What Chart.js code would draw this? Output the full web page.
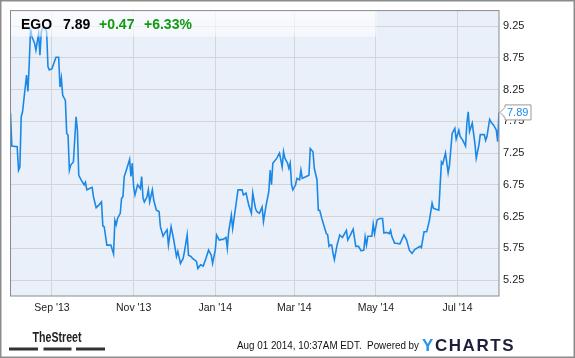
<!DOCTYPE html>
<html>
<head>
<meta charset="utf-8">
<script src="https://cdn.jsdelivr.net/npm/chart.js@4.4.0/dist/chart.umd.min.js"></script>
<style>
  html, body { margin: 0; padding: 0; background: #fff; }
  #wrap { width: 575px; height: 358px; }
</style>
</head>
<body>
<div id="wrap"><canvas id="myChart" width="575" height="358"></canvas></div>
<script>
// EGO daily close, days counted from 2013-08-01
const startDate = '2013-08-01';
const days = [0,1,5,6,7,8,9,12,13,14,15,16,18,19,21,22,23,24,26,27,28,29,31,32,34,36,37,38,39,41,
  42,43,44,45,47,49,50,51,53,55,56,57,59,61,62,64,66,68,69,70,72,75,77,78,79,80,82,83,84,85,
  87,89,90,91,92,93,94,95,97,98,99,100,102,103,104,106,107,109,111,112,114,115,117,118,120,122,124,125,127,129,
  130,132,133,135,136,138,139,140,142,144,146,148,150,151,153,154,156,158,159,161,162,163,165,166,170,173,174,176,178,180,
  181,183,184,186,188,189,191,193,194,195,196,199,201,203,204,205,207,208,209,210,211,213,214,216,217,218,221,223,224,226,
  227,229,230,231,233,236,237,238,239,240,241,242,244,246,248,251,252,254,256,258,260,262,264,265,266,267,270,271,272,274,
  276,278,279,281,283,284,285,287,288,291,294,296,298,300,302,306,307,309,311,313,315,316,320,322,323,325,327,328,330,332,
  333,335,336,338,340,341,342,343,345,346,347,348,350,351,354,355,356,358,359,361,363,364,365];
const prices = [7.88,7.36,7.35,6.98,7.03,7.82,7.90,8.48,8.22,8.66,9.21,9.08,8.98,8.87,9.13,8.79,9.16,9.22,9.22,9.16,8.61,8.56,8.58,8.64,8.76,8.76,8.29,8.43,8.16,8.08,
  7.56,7.53,6.98,7.06,7.11,7.82,7.61,6.90,6.82,6.75,6.79,6.67,6.69,6.71,6.56,6.39,6.43,6.48,6.10,6.09,5.80,5.80,5.66,6.19,6.12,6.22,6.30,6.54,6.56,6.88,
  7.01,7.15,6.88,7.09,6.72,6.59,6.67,6.75,6.69,6.88,6.54,6.48,6.56,6.67,6.48,6.67,6.51,6.35,6.33,6.09,5.94,5.98,6.04,5.80,6.09,5.88,5.62,5.70,5.51,5.59,
  5.70,5.96,5.64,5.62,5.59,5.56,5.54,5.43,5.49,5.47,5.59,5.72,5.64,5.51,5.72,5.96,5.88,5.89,5.89,5.92,5.75,6.01,6.27,6.06,6.67,6.67,6.59,6.62,6.43,6.30,
  6.62,6.38,6.33,6.30,6.40,6.17,6.43,6.64,6.98,6.75,7.09,7.17,7.25,7.03,7.27,7.17,7.09,7.01,7.09,6.75,6.67,6.75,6.85,6.83,6.98,6.85,6.88,6.90,7.32,7.27,
  7.01,6.83,6.35,6.35,6.19,5.98,5.96,5.78,5.80,5.80,5.67,5.57,5.80,5.96,5.92,6.03,5.88,5.96,6.05,5.78,5.78,5.71,5.72,5.93,5.80,5.94,5.94,6.13,5.98,6.20,
  6.22,6.22,5.99,6.00,5.98,6.03,5.93,5.83,5.83,5.82,5.96,5.88,5.72,5.67,5.73,5.78,5.76,6.01,6.01,6.19,6.46,6.38,6.35,7.11,7.08,7.25,6.94,7.06,7.56,7.64,
  7.47,7.61,7.51,7.45,7.36,7.72,7.90,7.59,7.72,7.56,7.40,7.17,7.38,7.54,7.54,7.45,7.51,7.78,7.74,7.69,7.61,7.43,7.89];

const xTickDates = ['2013-09-01', '2013-11-01', '2014-01-01', '2014-03-01', '2014-05-01', '2014-07-01'];
const xTickLabels = ["Sep '13", "Nov '13", "Jan '14", "Mar '14", "May '14", "Jul '14"];
const yTicks = [5.25, 5.75, 6.25, 6.75, 7.25, 7.75, 8.25, 8.75, 9.25];

const ticker = 'EGO';
const lastPrice = '7.89';
const change = '+0.47';
const changePct = '+6.33%';
const stamp = 'Aug 01 2014, 10:37AM EDT.  Powered by';

const dayOf = d => Math.round((Date.parse(d) - Date.parse(startDate)) / 86400000);
const xTickDays = xTickDates.map(dayOf);
const points = days.map((d, i) => ({x: d, y: prices[i]}));

const FONT = "'Liberation Sans', Arial, sans-serif";
const BLUE = '#1c88e6';

const chartBackground = {
  id: 'chartBackground',
  beforeDraw(chart) {
    const {ctx, chartArea: {left, top, width, height}} = chart;
    ctx.save();
    ctx.fillStyle = '#fff';
    ctx.fillRect(0, 0, chart.width, chart.height);
    ctx.fillStyle = '#e9f0fa';
    ctx.fillRect(left, top, width, height);
    ctx.restore();
  }
};

const headerBox = {
  id: 'headerBox',
  afterDatasetsDraw(chart) {
    const {ctx, chartArea: {left, top, width, height}} = chart;
    ctx.save();
    const g = ctx.createLinearGradient(0, top, 0, top + 26);
    g.addColorStop(0, 'rgba(255,255,255,0.75)');
    g.addColorStop(1, 'rgba(255,255,255,0.5)');
    ctx.fillStyle = g;
    ctx.fillRect(left, top, 366, 26);

    // plot frame
    ctx.strokeStyle = '#8a8a8a';
    ctx.lineWidth = 1;
    ctx.strokeRect(left, top, width, height);

    ctx.font = 'bold 14px ' + FONT;
    ctx.textBaseline = 'alphabetic';
    ctx.fillStyle = '#000';
    ctx.fillText(ticker, 21, 28.5);
    ctx.fillText(lastPrice, 63, 28.5);
    ctx.fillStyle = '#129a12';
    ctx.fillText(change, 99, 28.5);
    ctx.fillText(changePct, 144, 28.5);
    ctx.restore();
  }
};

const lastTag = {
  id: 'lastTag',
  afterDraw(chart) {
    const {ctx, scales: {y}, chartArea: {right}} = chart;
    const yy = y.getPixelForValue(prices[prices.length - 1]);
    ctx.save();
    ctx.beginPath();
    ctx.moveTo(right + 1, yy);
    ctx.lineTo(right + 6, yy - 5);
    ctx.lineTo(right + 6, yy - 7.5);
    ctx.lineTo(right + 32, yy - 7.5);
    ctx.lineTo(right + 32, yy + 7.5);
    ctx.lineTo(right + 6, yy + 7.5);
    ctx.lineTo(right + 6, yy + 5);
    ctx.closePath();
    ctx.fillStyle = '#fff';
    ctx.fill();
    ctx.strokeStyle = '#999';
    ctx.lineWidth = 1;
    ctx.stroke();
    ctx.font = '11px ' + FONT;
    ctx.fillStyle = BLUE;
    ctx.textBaseline = 'middle';
    ctx.fillText(lastPrice, right + 8, yy + 0.5);
    ctx.restore();
  }
};

const footer = {
  id: 'footer',
  afterDraw(chart) {
    const {ctx} = chart;
    ctx.save();
    // outer frame
    ctx.strokeStyle = '#8c8c8c';
    ctx.lineWidth = 1.5;
    ctx.strokeRect(0.75, 0.75, chart.width - 1.5, chart.height - 1.5);

    ctx.fillStyle = '#222';
    ctx.font = 'bold 15px ' + FONT;
    ctx.textBaseline = 'alphabetic';
    ctx.fillText('TheStreet', 32.5, 342, 49);
    ctx.fillStyle = '#333';
    ctx.fillRect(9, 347.5, 29, 3);
    ctx.fillRect(43.5, 347.5, 28, 3);
    ctx.fillRect(76, 347.5, 29, 3);

    ctx.fillStyle = '#111';
    ctx.font = '10.5px ' + FONT;
    ctx.fillText(stamp, 237, 349, 182);

    ctx.font = 'bold 17px ' + FONT;
    const letters = 'YCHARTS'.split('');
    const total = letters.reduce((s, c) => s + ctx.measureText(c).width, 0);
    const gap = (91.5 - total) / (letters.length - 1);
    let x = 422;
    letters.forEach((c, i) => {
      ctx.fillStyle = i === 0 ? '#2196f3' : '#1b1f3b';
      ctx.fillText(c, x, 350.5);
      x += ctx.measureText(c).width + gap;
    });
    ctx.restore();
  }
};

const tickFont = {family: FONT, size: 10.5};

var ctx = document.getElementById('myChart').getContext('2d');
var chart = new Chart(ctx, {
  type: 'line',
  data: {
    datasets: [{
      label: ticker,
      data: points,
      borderColor: BLUE,
      borderWidth: 1.6,
      pointRadius: 0,
      fill: false,
      tension: 0
    }]
  },
  options: {
    responsive: false,
    animation: false,
    devicePixelRatio: 1,
    layout: {padding: {left: 10.5, top: 10.5, right: 0, bottom: 0}},
    plugins: {legend: {display: false}, tooltip: {enabled: false}},
    scales: {
      x: {
        type: 'linear',
        min: 0,
        max: 365,
        grid: {color: '#d4d4d4', drawTicks: false},
        border: {display: false},
        ticks: {
          padding: 6,
          color: '#222',
          font: tickFont,
          maxRotation: 0,
          autoSkip: false,
          callback: v => xTickLabels[xTickDays.indexOf(v)]
        },
        afterBuildTicks: scale => { scale.ticks = xTickDays.map(v => ({value: v})); },
        afterFit: scale => { scale.height = 62; }
      },
      y: {
        position: 'right',
        min: 4.998,
        max: 9.494,
        grid: {color: '#d4d4d4', drawTicks: false},
        border: {display: false},
        ticks: {
          padding: 4,
          color: '#222',
          font: {family: FONT, size: 11},
          callback: v => v.toFixed(2)
        },
        afterBuildTicks: scale => { scale.ticks = yTicks.map(v => ({value: v})); },
        afterFit: scale => { scale.width = 76; }
      }
    }
  },
  plugins: [chartBackground, headerBox, lastTag, footer]
});
</script>
</body>
</html>
